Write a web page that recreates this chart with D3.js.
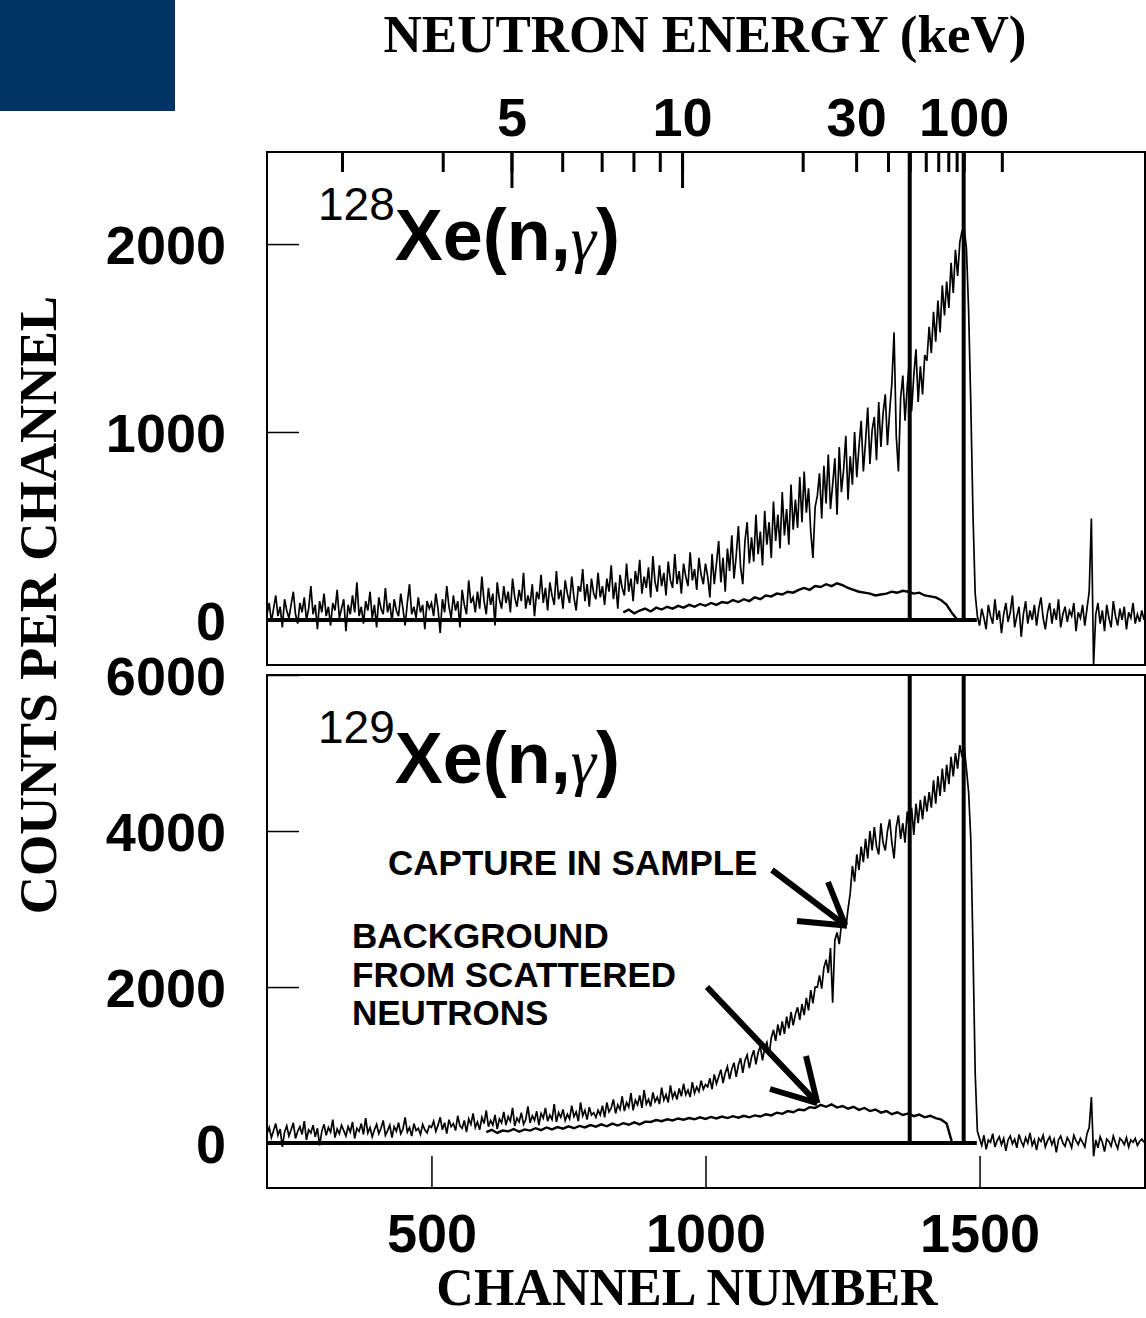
<!DOCTYPE html>
<html>
<head>
<meta charset="utf-8">
<script src="https://cdn.jsdelivr.net/npm/d3@7"></script>
<style>
  body { margin: 0; background: #fff; }
  svg { display: block; }
</style>
</head>
<body>
<script>

// channel bins (every 4th channel from 200 to 1800)
var binStart = 200, binStep = 4;

// 128Xe(n,g): capture in sample (total counts per channel)
var xe128Total = [
  // ch 200-496
  30, 90, -10, 60, 130, 20, 70, -40, 110, 50,
  10, 80, 150, 30, -20, 90, 40, 120, 0, 60,
  180, 30, 80, -50, 100, 40, 140, 20, 70, -30,
  90, 50, 160, 10, 60, 110, -60, 80, 30, 130,
  40, 200, 20, 70, -20, 100, 50, 150, 10, 80,
  -40, 120, 60, 30, 170, 40, 90, -10, 110, 50,
  20, 140, 60, -30, 90, 190, 30, 70, 10, 120,
  40, 80, -50, 100, 60,
  // ch 500-800
  90, 20, 140, 60, -70, 110, 40, 180, 70, 10,
  130, 50, 100, -40, 160, 80, 30, 210, 90, 120,
  40, 150, 60, 230, 100, 30, 170, 80, 140, -30,
  200, 110, 60, 180, 90, 150, 40, 220, 120, 70,
  160, 100, 250, 60, 130, 80, 190, 20, 150, 110,
  240, 90, 170, 50, 200, 130, 80, 260, 110, 160,
  60, 210, 140, 90, 230, 120, 50, 180, 150, 270,
  100, 190, 70, 220, 140, 110,
  // ch 804-1000
  250, 120, 180, 80, 220, 150, 290, 110, 200, 60,
  240, 170, 130, 300, 150, 220, 100, 260, 190, 320,
  140, 230, 170, 280, 120, 340, 200, 150, 290, 180,
  250, 130, 310, 210, 170, 350, 190, 260, 140, 300,
  230, 180, 360, 210, 270, 160, 330, 240, 190, 300,
  // ch 1004-1200
  230, 120, 350, 190, 300, 420, 200, 330, 150, 380,
  260, 450, 220, 340, 500, 280, 190, 420, 520, 300,
  440, 310, 560, 350, 470, 290, 580, 400, 520, 330,
  630, 420, 560, 380, 680, 450, 590, 400, 720, 480,
  640, 490, 760, 520, 790, 570, 700, 470, 330, 600,
  // ch 1204-1400
  660, 780, 540, 820, 620, 880, 590, 720, 860, 560,
  920, 680, 800, 980, 640, 870, 720, 1000, 760, 920,
  1060, 790, 950, 1130, 830, 1010, 1080, 850, 1160, 920,
  1100, 1200, 930, 1110, 1260, 1530, 980, 790, 1180, 1300,
  1060, 1240, 1380, 1110, 1300, 1440, 1160, 1350, 1200, 1410,
  // ch 1404-1472
  1380, 1560, 1420, 1640, 1480, 1700, 1530, 1780, 1620, 1800,
  1660, 1900, 1740, 1970, 1830, 2010, 2070, 2080,
  // ch 1476-1496 (cut-off edge)
  1980, 1650, 1150, 560, 140, 20,
  // ch 1500-1800
  -30, 60, 10, -50, 80, 20, -20, 110, 0, 50,
  -70, 30, 90, -10, 40, 130, -40, 20, 70, -90,
  30, 100, -20, 50, 0, 80, -30, 60, 120, 10,
  -50, 40, 90, -20, 60, 0, 110, -40, 30, 70,
  -10, 50, 20, 90, -60, 40, 10, 80, -30, 60,
  150, 540, -240,
  30, 90, -20, 50, -60, 80, 10, -40, 100, 20,
  -30, 60, 0, 70, -50, 40, 10, 90, -20, 30,
  -10, 50, 0
];

// 128Xe: background from scattered neutrons, every 10 channels from 850
var xe128BgStart = 850;
var xe128Bg = [
  40, 55, 35, 50, 60, 45, 65, 55, 70, 60,
  75, 65, 80, 70, 85, 75, 90, 80, 95, 90,
  105, 95, 110, 100, 120, 110, 130, 125, 140, 135,
  150, 145, 160, 170, 160, 180, 175, 190, 180, 195,
  185, 170, 160, 150, 145, 140, 130, 135, 140, 150,
  145, 155, 150, 140, 145, 130, 125, 120, 105, 80,
  35, 0
];

// 129Xe(n,g): capture in sample (total counts per channel)
var xe129Total = [
  // ch 200-496
  120, 200, 70, 160, 250, 100, 180, -50, 140, 220,
  90, 170, 260, 60, 150, 210, 110, 280, 40, 170,
  130, 230, 80, 190, -30, 150, 240, 100, 200, 140,
  300, 70, 180, 120, 230, 160, 90, 210, 140, 270,
  60, 190, 150, 250, 110, 320, 130, 200, 80, 170,
  240, 120, 190, 290, 100, 160, 230, 70, 210, 150,
  260, 120, 180, 330, 140, 200, 90, 250, 160, 190,
  110, 240, 170, 130, 220,
  // ch 500-800
  200, 280, 150, 230, 330, 170, 260, 120, 300, 210,
  250, 160, 350, 220, 190, 290, 140, 310, 240, 380,
  200, 270, 170, 330, 250, 420, 210, 290, 230, 360,
  180, 310, 260, 400, 230, 340, 280, 450, 220, 320,
  270, 390, 240, 300, 470, 260, 350, 290, 410, 230,
  380, 320, 450, 280, 360, 300, 500, 270, 390, 330,
  430, 290, 370, 310, 480, 340, 400, 280, 520, 350,
  420, 300, 460, 360, 390, 330,
  // ch 804-1000
  420, 360, 480, 330, 520, 400, 450, 560, 380, 490,
  430, 600, 410, 520, 460, 640, 420, 550, 490, 610,
  450, 680, 500, 560, 470, 650, 530, 590, 500, 710,
  550, 620, 520, 740, 580, 650, 560, 700, 600, 760,
  620, 680, 590, 780, 640, 720, 660, 800, 690, 750,
  // ch 1004-1200
  720, 830, 690, 880, 760, 850, 940, 770, 900, 980,
  820, 950, 1030, 850, 1000, 1090, 900, 1060, 1130, 960,
  1100, 1190, 1010, 1160, 1240, 1060, 1220, 1290, 1120, 1350,
  1450, 1310, 1520, 1380, 1560, 1400, 1620, 1470, 1680, 1510,
  1650, 1740, 1580, 1780, 1640, 1860, 1700, 1960, 1790, 2000,
  // ch 1204-1400
  2000, 2150, 1980, 2250, 2350, 2180, 2500, 1800, 2600, 2700,
  2550, 2800, 2900, 2750, 3000, 3200, 3550, 3350, 3700, 3500,
  3800, 3600, 3900, 3650, 4000, 3750, 4050, 3800, 3700, 4100,
  3850, 3750, 4000, 4150, 3850, 3650, 4050, 4200, 3900, 4100,
  3850, 4250, 4000, 4300, 3950, 4350, 4100, 4400, 4150, 4450,
  // ch 1404-1472
  4250, 4500, 4300, 4650, 4350, 4700, 4450, 4800, 4500, 4850,
  4600, 4950, 4700, 5000, 4800, 5100, 4950, 5080,
  // ch 1476-1496 (cut-off edge)
  4800, 4500, 3900, 2500, 900, 150,
  // ch 1500-1800
  60, -30, 100, -80, 40, 10, 120, -50, 30, 80,
  -20, 60, -100, 40, 90, -10, 50, -60, 110, 20,
  -40, 70, 0, 130, -30, 40, -90, 60, 20, 100,
  -50, 30, 80, -20, 50, -120, 40, 90, 0, -40,
  70, 20, -60, 100, 30, -20, 60, 10, -50, 120,
  200, 590, -170,
  40, -60, 80, 10, -110, 50, 20, -40, 90, 0,
  -70, 60, 30, -20, 70, -50, 40, 10, 60, -30,
  20, 50, 10
];

// 129Xe: background from scattered neutrons, every 10 channels from 600
var xe129BgStart = 600;
var xe129Bg = [
  140, 170, 130, 160, 150, 180, 145, 175, 160, 190,
  165, 200, 175, 205, 185, 215, 190, 220, 200, 230,
  210, 240, 215, 250, 225, 255, 235, 265, 240, 275,
  270, 295, 280, 305, 290, 315, 300, 320, 305, 330,
  310, 335, 315, 340, 320, 345, 325, 350, 330, 355,
  340, 370, 355, 390, 375, 410, 395, 430, 420, 460,
  450, 490, 465, 495, 455, 475, 440, 465, 425, 450,
  410, 430, 390, 410, 370, 395, 360, 380, 345, 365,
  330, 350, 320, 300, 250, 0
];

// neutron energy calibration of the top axis (keV -> channel)
var energyRefKeV = [5, 100];
var energyRefChannel = [646, 1471];
var energyTicks = [3, 4, 5, 6, 7, 8, 9, 10, 20, 30, 40, 50, 60, 70, 80, 90, 100, 200];
var energyMajor = [5, 10];
var energyLabels = [5, 10, 30, 100];
var windowKeV = [50, 100];

var channelTicks = [500, 1000, 1500];
var topCountTicks = [0, 1000, 2000];
var botCountTicks = [0, 2000, 4000, 6000];

var W = 1146, H = 1318;
var sans = "'Liberation Sans', Arial, Helvetica, sans-serif";
var serif = "'Liberation Serif', 'Times New Roman', serif";

var svg = d3.select("body").append("svg")
    .attr("width", W)
    .attr("height", H);

svg.append("rect")
    .attr("x", 0).attr("y", 0)
    .attr("width", 175).attr("height", 111)
    .attr("fill", "#003366");

var x = d3.scaleLinear().domain([200, 1800]).range([267, 1144]);
var xl = 267, xr = 1145;

// energy (keV) -> pixel, through the channel calibration
var eX = d3.scalePow().exponent(-0.5)
    .domain(energyRefKeV)
    .range(energyRefChannel.map(function(c) { return x(c); }));

function series(vals, start, step) {
  return vals.map(function(v, i) { return { ch: start + i * step, v: v }; });
}

var panels = [
  { id: "p128", top: 152, bottom: 665, domain: [-240, 2490], ticks: topCountTicks,
    total: series(xe128Total, binStart, binStep), bg: series(xe128Bg, xe128BgStart, 10), iso: "128" },
  { id: "p129", top: 675, bottom: 1188, domain: [-576, 6000], ticks: botCountTicks,
    total: series(xe129Total, binStart, binStep), bg: series(xe129Bg, xe129BgStart, 10), iso: "129" }
];

panels.forEach(function(p) {
  var y = d3.scaleLinear().domain(p.domain).range([p.bottom, p.top]);
  p.y = y;

  svg.append("clipPath").attr("id", "clip-" + p.id)
    .append("rect")
    .attr("x", xl).attr("y", p.top)
    .attr("width", xr - xl).attr("height", p.bottom - p.top);

  var g = svg.append("g").attr("clip-path", "url(#clip-" + p.id + ")");

  var line = d3.line()
      .x(function(d) { return x(d.ch); })
      .y(function(d) { return y(d.v); });

  // zero line
  g.append("line")
      .attr("x1", x(200)).attr("x2", x(1495))
      .attr("y1", y(0)).attr("y2", y(0))
      .attr("stroke", "#000").attr("stroke-width", 4);

  g.append("path")
      .datum(p.bg)
      .attr("d", line)
      .attr("fill", "none")
      .attr("stroke", "#000")
      .attr("stroke-width", 2.4);

  g.append("path")
      .datum(p.total)
      .attr("d", line)
      .attr("fill", "none")
      .attr("stroke", "#000")
      .attr("stroke-width", 1.7);

  // energy window lines
  g.selectAll("line.win")
    .data(windowKeV)
    .enter()
    .append("line")
      .attr("class", "win")
      .attr("x1", function(d) { return eX(d); })
      .attr("x2", function(d) { return eX(d); })
      .attr("y1", p.top)
      .attr("y2", y(0))
      .attr("stroke", "#000")
      .attr("stroke-width", 4);

  // frame
  svg.append("rect")
      .attr("x", xl).attr("y", p.top)
      .attr("width", xr - xl).attr("height", p.bottom - p.top)
      .attr("fill", "none")
      .attr("stroke", "#000")
      .attr("stroke-width", 2);

  // count axis, ticks inward
  var ay = svg.append("g")
      .attr("transform", "translate(" + xl + ",0)")
      .call(d3.axisLeft(y).tickValues(p.ticks).tickSizeInner(-32).tickSizeOuter(0).tickPadding(41)
            .tickFormat(d3.format("d")));
  ay.select(".domain").remove();
  ay.selectAll("line").attr("stroke", "#000").attr("stroke-width", 1.5);
  ay.selectAll("text")
      .attr("font-family", sans)
      .attr("font-weight", "bold")
      .attr("font-size", "54px")
      .attr("fill", "#000")
      .attr("dy", "0.36em");

  // panel title
  var t = svg.append("text")
      .attr("x", 318)
      .attr("y", p.top + 108)
      .attr("font-family", sans)
      .attr("fill", "#000");
  t.append("tspan")
      .attr("font-size", "46px")
      .attr("dy", "-40")
      .text(p.iso);
  t.append("tspan")
      .attr("font-size", "72px")
      .attr("font-weight", "bold")
      .attr("dy", "40")
      .text("Xe(n,");
  t.append("tspan")
      .attr("font-size", "64px")
      .attr("font-family", serif)
      .attr("font-style", "italic")
      .text("\u03b3");
  t.append("tspan")
      .attr("font-size", "72px")
      .attr("font-weight", "bold")
      .text(")");
});

// top energy axis
var upper = panels[0];
function styleAxis(gAx) {
  gAx.select(".domain").remove();
  gAx.selectAll("line").attr("stroke", "#000").attr("stroke-width", 3);
  gAx.selectAll("text")
      .attr("font-family", sans)
      .attr("font-weight", "bold")
      .attr("font-size", "54px")
      .attr("fill", "#000");
}
var eMinor = svg.append("g")
    .attr("transform", "translate(0," + upper.top + ")")
    .call(d3.axisTop(eX).tickValues(energyTicks).tickSizeInner(-20).tickSizeOuter(0).tickFormat(""));
styleAxis(eMinor);
var eMajor = svg.append("g")
    .attr("transform", "translate(0," + upper.top + ")")
    .call(d3.axisTop(eX).tickValues(energyMajor).tickSizeInner(-36).tickSizeOuter(0).tickFormat(""));
styleAxis(eMajor);
var eLab = svg.append("g")
    .attr("transform", "translate(0," + upper.top + ")")
    .call(d3.axisTop(eX).tickValues(energyLabels).tickSize(0).tickPadding(16).tickFormat(d3.format("d")));
styleAxis(eLab);

// bottom channel axis
var lower = panels[1];
var ax = svg.append("g")
    .attr("transform", "translate(0," + lower.bottom + ")")
    .call(d3.axisBottom(x).tickValues(channelTicks).tickSizeInner(-32).tickSizeOuter(0).tickPadding(26)
          .tickFormat(d3.format("d")));
styleAxis(ax);
ax.selectAll("line").attr("stroke-width", 1.5);

// axis titles
svg.append("text")
    .attr("x", 705).attr("y", 52)
    .attr("text-anchor", "middle")
    .attr("font-family", serif)
    .attr("font-weight", "bold")
    .attr("font-size", "53px")
    .text("NEUTRON ENERGY (keV)");

svg.append("text")
    .attr("x", 687).attr("y", 1305)
    .attr("text-anchor", "middle")
    .attr("font-family", serif)
    .attr("font-weight", "bold")
    .attr("font-size", "52px")
    .text("CHANNEL NUMBER");

svg.append("text")
    .attr("transform", "translate(56,605) rotate(-90)")
    .attr("text-anchor", "middle")
    .attr("font-family", serif)
    .attr("font-weight", "bold")
    .attr("font-size", "53px")
    .text("COUNTS PER CHANNEL");

// annotations (arrow tips anchored in data coords of the 129Xe panel)
var notes = [
  { lines: ["CAPTURE IN SAMPLE"], tx: 388, ty: 875, ch: 1255, v: 2790,
    from: [772, 870], barbs: [[828, 882], [797, 921]] },
  { lines: ["BACKGROUND", "FROM SCATTERED", "NEUTRONS"], tx: 352, ty: 948, ch: 1204, v: 512,
    from: [707, 987], barbs: [[806, 1056], [770, 1089]] }
];

notes.forEach(function(n) {
  var tipX = x(n.ch), tipY = lower.y(n.v);
  var txt = svg.append("text")
      .attr("x", n.tx).attr("y", n.ty)
      .attr("font-family", sans)
      .attr("font-weight", "bold")
      .attr("font-size", "35px");
  n.lines.forEach(function(s, i) {
    txt.append("tspan").attr("x", n.tx).attr("dy", i === 0 ? 0 : 38.5).text(s);
  });
  var segs = [n.from].concat(n.barbs);
  svg.selectAll(null)
    .data(segs)
    .enter()
    .append("line")
      .attr("x1", function(d) { return d[0]; })
      .attr("y1", function(d) { return d[1]; })
      .attr("x2", tipX)
      .attr("y2", tipY)
      .attr("stroke", "#000")
      .attr("stroke-width", 6);
});

</script>
</body>
</html>
